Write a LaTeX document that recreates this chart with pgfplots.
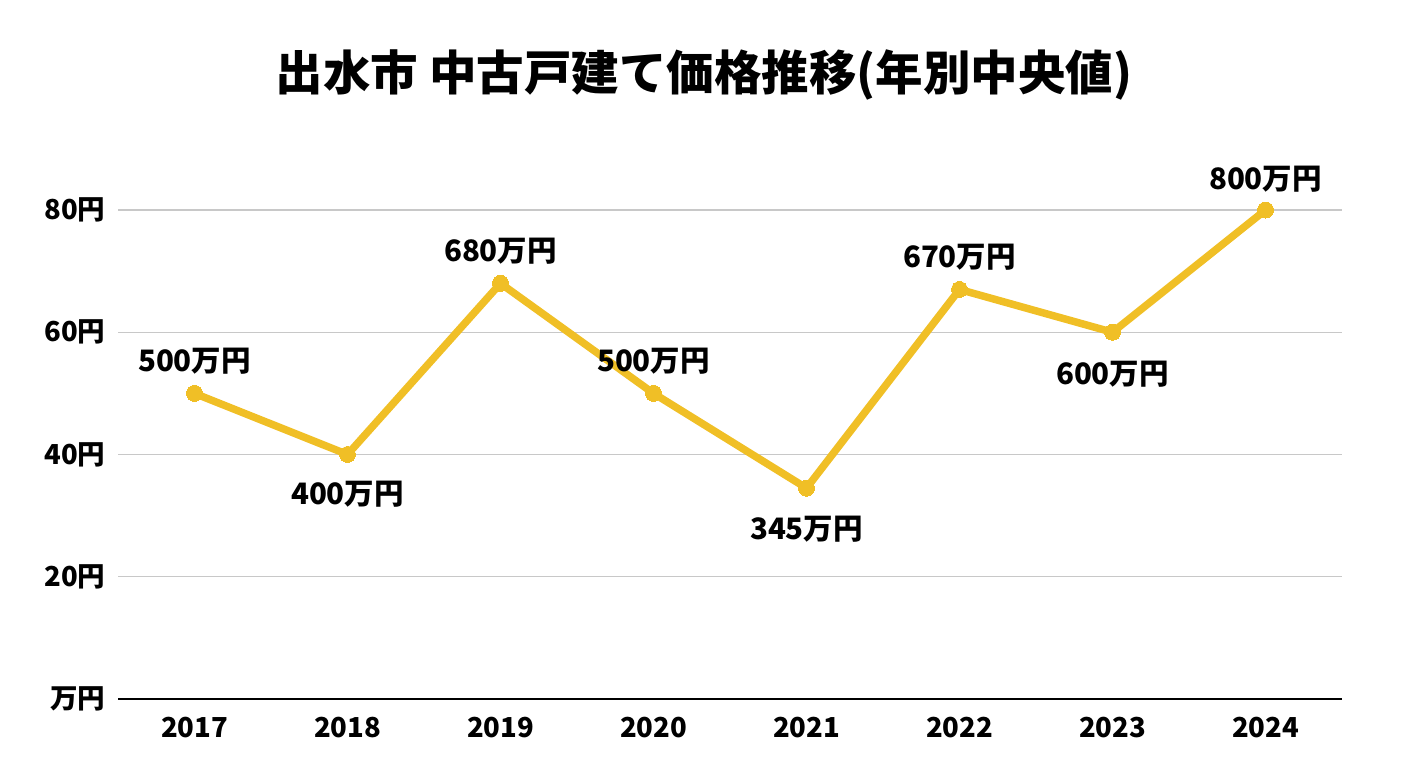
\documentclass[border=0pt]{standalone}
\usepackage{fontspec}
\setmainfont{Noto Sans CJK JP}
\usepackage{pgfplots}
\usepackage{pgfplotstable}
\pgfplotsset{compat=1.18}
\definecolor{lineyel}{HTML}{F0BF26}
\definecolor{gridg}{HTML}{C8C8C8}
\pgfplotstableread{
x y lab pos
0 50 500万円 32
1 40 400万円 -40
2 68 680万円 32
3 50 500万円 32
4 34.5 345万円 -41
5 67 670万円 32
6 60 600万円 -42
7 80 800万円 31
}\datatab
\begin{document}
\begin{tikzpicture}[x=1pt,y=1pt]
\path[use as bounding box] (0,0) rectangle (1408,768);
\node[font=\fontsize{47.5}{56}\selectfont\bfseries] at (704,693) {出水市 中古戸建て価格推移(年別中央値)};
\begin{axis}[
  at={(118pt,69pt)}, anchor=south west,
  scale only axis, width=1224pt, height=489pt,
  xmin=-0.5, xmax=7.5, ymin=0, ymax=80,
  clip=false,
  axis lines=left,
  y axis line style={draw=none},
  x axis line style={black, line width=2pt, -},
  xtick={0,...,7},
  xticklabels={2017,2018,2019,2020,2021,2022,2023,2024},
  ytick={0,20,40,60,80},
  yticklabels={万円,20円,40円,60円,80円},
  ymajorgrids, grid style={gridg, line width=1.5pt},
  major tick length=0pt,
  tick label style={font=\fontsize{27.5}{32}\selectfont\bfseries},
  xticklabel style={yshift=-15pt},
  yticklabel style={xshift=-9pt},
  /pgf/number format/assume math mode=true,
]
\addplot[lineyel, line width=7.5pt, mark=*, mark size=8pt, mark options={fill=lineyel, draw=lineyel, line width=0pt},
  point meta=explicit symbolic,
  nodes near coords,
  visualization depends on={\thisrow{pos} \as \pos},
  every node near coord/.append style={anchor=center, yshift=\pos pt, font=\fontsize{29.5}{34}\selectfont\bfseries, text=black}
] table[x=x, y=y, meta=lab] {\datatab};
\end{axis}
\end{tikzpicture}
\end{document}
